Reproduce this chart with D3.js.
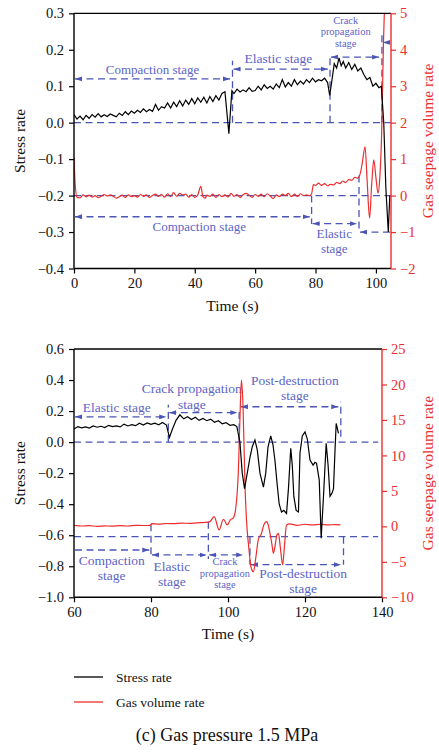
<!DOCTYPE html>
<html><head><meta charset="utf-8">
<script src="https://cdn.jsdelivr.net/npm/d3@7"></script>
<style>
body{margin:0;background:#fff;}
svg{display:block;font-family:"Liberation Serif","DejaVu Serif",serif;}
</style>
</head><body>
<svg id="c" width="439" height="752"></svg>
<script>
// ---------- DATA ----------
// Top panel: stress rate (left axis)
const topTime = [0,1,2,3,4,5,6,7,8,9,10,11,12,13,14,15,16,17,18,19,20,21,22,23,24,25,26,27,28,29,30,31,32,33,34,35,36,37,38,39,40,41,42,43,44,45,46,47,48,49,50,51.3,52.3,53,54,55,56,57,58,59,60,61,62,63,64,65,66,67,68,69,70,71,72,73,74,75,76,77,78,79,80,81,82,83,84,84.7,85.5,86.2,87,87.8,88.5,89.2,90,91,92,93,94,95,96,97,98,99,100,101,101.8,102.6,103.3,104.1,104.6];
const topStress = [0.022,0.010,0.018,0.008,0.020,0.012,0.022,0.015,0.025,0.016,0.022,0.017,0.024,0.020,0.016,0.026,0.020,0.030,0.022,0.032,0.026,0.034,0.028,0.038,0.030,0.036,0.031,0.050,0.034,0.044,0.040,0.054,0.040,0.056,0.044,0.060,0.046,0.062,0.050,0.066,0.052,0.068,0.056,0.070,0.054,0.072,0.058,0.074,0.062,0.080,0.085,-0.030,0.088,0.080,0.092,0.084,0.090,0.085,0.096,0.086,0.088,0.100,0.090,0.104,0.094,0.100,0.092,0.106,0.096,0.118,0.098,0.110,0.100,0.118,0.104,0.114,0.106,0.118,0.110,0.122,0.112,0.118,0.115,0.122,0.110,0.075,0.120,0.162,0.150,0.178,0.156,0.168,0.150,0.165,0.146,0.160,0.142,0.150,0.132,0.118,0.124,0.100,0.108,0.096,0.100,0.000,-0.180,-0.300,-0.200];
// Top panel: gas seepage volume rate (right axis)
const topGasTime = [0,0.4,1,2,3,4,5,6,7,8,9,10,11,12,13,14,15,16,17,18,19,20,21,22,23,24,25,26,27,28,29,30,31,32,33,34,35,36,37,38,39,40,41,42,42.7,43.5,44,45,46,47,48,49,50,51,52,53,54,55,56,57,58,59,60,61,62,63,64,65,66,67,68,69,70,71,72,73,74,75,76,77,78,78.7,79.3,80,81,82,83,84,85,86,87,88,89,90,91,92,93,94,94.8,95.5,96.4,97.1,97.9,98.6,99.3,100,100.7,101.3,101.9,102.5,102.9];
const topGas = [1.05,0.3,-0.05,-0.06,0.02,-0.03,0.01,-0.04,0.0,-0.06,-0.02,0.03,-0.01,0.02,-0.02,-0.07,-0.03,0.01,-0.05,0.02,-0.03,0.0,-0.04,0.03,-0.02,0.02,-0.05,0.0,0.04,-0.02,0.03,-0.04,0.05,-0.03,0.08,-0.02,0.06,0.02,0.04,-0.04,0.03,-0.05,0.02,0.25,-0.03,-0.07,0.01,-0.02,0.04,-0.05,0.03,-0.03,0.02,-0.04,0.06,-0.02,0.03,-0.05,0.02,0.06,0.01,-0.05,0.03,-0.02,0.04,-0.03,0.05,-0.01,-0.08,0.02,-0.03,0.04,0.0,0.06,-0.03,0.04,-0.02,0.05,0.0,0.02,0.0,0.05,0.30,0.28,0.34,0.28,0.33,0.27,0.31,0.29,0.36,0.33,0.40,0.36,0.44,0.42,0.50,0.48,0.60,0.90,1.34,0.40,-0.62,0.30,0.98,0.50,0.07,0.50,1.70,4.20,5.30];

// Bottom panel: stress rate (left axis)
const botTime = [60,61,62,63,64,65,66,67,68,69,70,71,72,73,74,75,76,77,78,79,80,81,82,83,84,84.8,85.5,86.5,87.5,88.5,89.5,90.5,91.5,92.5,93.5,94.5,95.5,96.5,97.5,98.5,99.5,100.5,101.5,102.3,103.1,103.7,104.3,105,105.7,106.3,107,107.6,108.3,109.2,109.8,110.4,111.1,111.7,112.2,112.8,113.3,113.9,114.5,115.2,115.7,116.3,116.7,117.1,117.7,118.3,118.7,119.3,120,120.6,121.3,122.1,122.6,123,123.7,124.2,124.8,125.5,126,126.5,127,127.4,127.8,128.1,128.7];
const botStress = [0.085,0.100,0.092,0.098,0.090,0.104,0.096,0.102,0.094,0.108,0.100,0.104,0.098,0.116,0.104,0.112,0.106,0.122,0.110,0.124,0.114,0.122,0.112,0.126,0.110,0.030,0.080,0.140,0.176,0.150,0.164,0.146,0.160,0.140,0.152,0.138,0.148,0.128,0.138,0.118,0.126,0.108,0.112,0.100,0.000,-0.200,-0.300,-0.200,-0.100,-0.030,0.013,-0.050,-0.200,-0.290,-0.200,-0.030,0.040,-0.020,-0.120,-0.280,-0.400,-0.450,-0.440,-0.460,-0.300,-0.040,-0.150,-0.350,-0.440,-0.450,-0.070,0.040,0.066,0.020,-0.116,-0.148,-0.130,-0.137,-0.245,-0.620,-0.350,-0.008,-0.150,-0.350,-0.330,-0.300,-0.050,0.120,0.056];
// Bottom panel: gas seepage volume rate (right axis)
const botGasTime = [60,62,64,66,68,70,72,74,76,78,79.8,80.2,82,84,86,88,90,92,94,95.3,96.4,97.7,98.8,99.8,100.6,101.4,101.9,102.7,103.2,103.5,103.9,104.4,104.8,105.4,106,106.6,107.2,107.9,108.7,109.3,110,110.5,110.9,111.4,111.8,112.3,112.7,113.1,113.6,114.2,114.7,115.2,116,118,120,122,124,126,128,129.2];
const botGas = [0.15,0.05,0.10,0.00,0.08,0.02,0.10,0.05,0.15,0.12,0.15,0.38,0.32,0.40,0.38,0.45,0.42,0.50,0.55,0.66,1.37,-0.50,1.00,0.20,0.90,1.20,2.10,7.90,17.0,20.6,17.0,6.0,0.9,-3.0,-5.8,-6.4,-4.5,-1.8,-1.0,0.2,0.66,0.1,-0.94,-2.5,-3.8,-2.5,-1.2,-1.0,-3.0,-5.4,-2.5,0.2,0.35,0.15,0.30,0.20,0.30,0.20,0.25,0.20];

// Tick labels
const topXTicks = [0,20,40,60,80,100];
const topLeftTicks = [0.3,0.2,0.1,0.0,-0.1,-0.2,-0.3,-0.4];
const topRightTicks = [5,4,3,2,1,0,-1,-2];
const botXTicks = [60,80,100,120,140];
const botLeftTicks = [0.6,0.4,0.2,0.0,-0.2,-0.4,-0.6,-0.8,-1.0];
const botRightTicks = [25,20,15,10,5,0,-5,-10];

// Stage annotations: [x1, x2, y, axis, arrowStart, arrowEnd]
const topArrows = [[0,52,0.12,'L',1,1],[52.5,84.4,0.147,'L',1,1],[84.8,101.4,0.18,'L',1,1],[102,105,0.22,'L',1,0],
                   [0,78.4,-0.58,'R',1,1],[78.7,94.1,-0.77,'R',1,1],[94.4,105,-1.0,'R',1,0]];
const topVLines = [[52.5,0,0.17,'L'],[84.8,0,0.185,'L'],[102,0,0.245,'L'],[78.7,0,-0.78,'R'],[94.4,0.55,-1.0,'R']];
const topHLines = [[0,105,0,'L'],[0,105,0,'R']];
const topLabels = [[["Compaction stage"],26,0.134,'L',13],[["Elastic stage"],67.7,0.163,'L',13.5],[["Crack","propagation","stage"],90,0.272,'L',10.5],
                   [["Compaction stage"],41.5,-0.98,'R',13],[["Elastic","stage"],86.2,-1.17,'R',13]];

const botArrows = [[60,84.2,0.163,'L',1,1],[84.5,102.7,0.19,'L',1,1],[103.1,128.9,0.228,'L',1,1],
                   [60,79.8,-3.33,'R',0,1],[80,94.7,-4.03,'R',1,1],[94.9,104.2,-4.03,'R',1,1],[105.7,129.6,-5.4,'R',1,1]];
const botVLines = [[84.5,0,0.24,'L'],[102.9,0,0.22,'L'],[129.3,0.034,0.26,'L'],[80,0.3,-4.0,'R'],[94.9,0.66,-4.6,'R'],[105.7,-1.45,-5.4,'R'],[130,-1.45,-5.4,'R']];
const botHLines = [[60,139,0,'L'],[60,139,-1.45,'R']];
const botLabels = [[["Elastic stage"],71.1,0.196,'L',13.5],[["Crack propagation","stage"],90.6,0.314,'L',13.5],[["Post-destruction","stage"],117.4,0.368,'L',13.5],
                   [["Compaction","stage"],69.8,-5.44,'R',13.5],[["Elastic","stage"],85.4,-6.3,'R',13.5],[["Crack","propagation","stage"],99.2,-5.44,'R',10.5],[["Post-destruction","stage"],119.5,-7.3,'R',13.5]];

const legendItems = ["Stress rate","Gas volume rate"];
const caption = "(c) Gas pressure 1.5 MPa";

// ---------- DRAWING ----------
const RED = "#ec2d2d", BLUE = "#4a55b5", BLUE_T = "#5c64c6";
const svg = d3.select("#c");
const defs = svg.append("defs");
defs.append("marker").attr("id","ah").attr("viewBox","0 0 7 6").attr("refX",7).attr("refY",3)
  .attr("markerWidth",7).attr("markerHeight",6).attr("markerUnits","userSpaceOnUse")
  .attr("orient","auto-start-reverse")
  .append("path").attr("d","M0,0.6 L7,3 L0,5.4 Z").attr("fill",BLUE);

function panel(cfg){
  const g = svg.append("g");
  const x = d3.scaleLinear().domain(cfg.xDom).range([74, cfg.xRight]);
  const yL = d3.scaleLinear().domain(cfg.yLDom).range([cfg.yBottom, cfg.yTop]);
  const yR = d3.scaleLinear().domain(cfg.yRDom).range([cfg.yBottom, cfg.yTop]);
  const ys = a => a==='L' ? yL : yR;
  const clipId = "clip"+cfg.id;
  defs.append("clipPath").attr("id",clipId).append("rect")
    .attr("x",74).attr("y",cfg.yTop).attr("width",cfg.xRight-74).attr("height",cfg.yBottom-cfg.yTop);

  // annotations (dashed)
  const ann = g.append("g").attr("stroke",BLUE).attr("stroke-width",1.3).attr("stroke-dasharray","7,4.5").attr("fill","none");
  cfg.hlines.forEach(h=>{
    ann.append("line").attr("x1",x(h[0])).attr("x2",x(h[1])).attr("y1",ys(h[3])(h[2])).attr("y2",ys(h[3])(h[2]));
  });
  cfg.vlines.forEach(v=>{
    ann.append("line").attr("x1",x(v[0])).attr("x2",x(v[0])).attr("y1",ys(v[3])(v[1])).attr("y2",ys(v[3])(v[2]));
  });
  cfg.arrows.forEach(a=>{
    const l = ann.append("line").attr("x1",x(a[0])+1).attr("x2",x(a[1])-1).attr("y1",ys(a[3])(a[2])).attr("y2",ys(a[3])(a[2]));
    if(a[4]) l.attr("marker-start","url(#ah)");
    if(a[5]) l.attr("marker-end","url(#ah)");
  });
  cfg.labels.forEach(t=>{
    const fs = t[4];
    const tx = g.append("text").attr("fill",BLUE_T).attr("font-size",fs).attr("text-anchor","middle");
    t[0].forEach((s,i)=>{
      tx.append("tspan").attr("x",x(t[1])).attr("y",ys(t[3])(t[2]) + i*fs*1.12).text(s);
    });
  });

  // data lines
  const lines = g.append("g").attr("clip-path",`url(#${clipId})`).attr("fill","none");
  lines.append("path").datum(d3.zip(cfg.gasT,cfg.gas))
    .attr("stroke",RED).attr("stroke-width",1.2)
    .attr("d", d3.line().x(d=>x(d[0])).y(d=>yR(d[1])).curve(d3.curveMonotoneX));
  lines.append("path").datum(d3.zip(cfg.stT,cfg.st))
    .attr("stroke","#000").attr("stroke-width",1.2)
    .attr("d", d3.line().x(d=>x(d[0])).y(d=>yL(d[1])));

  // frame top
  g.append("line").attr("x1",74).attr("x2",cfg.xRight).attr("y1",cfg.yTop).attr("y2",cfg.yTop).attr("stroke","#000").attr("stroke-width",1.3);

  // axes
  const ax = g.append("g").attr("transform",`translate(0,${cfg.yBottom})`)
    .call(d3.axisBottom(x).tickValues(cfg.xTicks).tickSize(5).tickPadding(4).tickFormat(d3.format("d")));
  const al = g.append("g").attr("transform","translate(74,0)")
    .call(d3.axisLeft(yL).tickValues(cfg.lTicks).tickSize(5).tickPadding(5).tickFormat(d3.format(".1f")));
  const ar = g.append("g").attr("transform",`translate(${cfg.xRight},0)`)
    .call(d3.axisRight(yR).tickValues(cfg.rTicks).tickSize(5).tickPadding(4).tickFormat(d3.format("d")));
  [ax,al,ar].forEach(a=>{
    a.attr("font-family",null).attr("font-size",14.5);
    a.select(".domain").attr("stroke-width",1.4);
    a.selectAll(".tick line").attr("stroke-width",1.2);
  });
  [ax,al].forEach(a=>{ a.selectAll("text").attr("fill","#111"); a.selectAll(".tick line, .domain").attr("stroke","#000"); });
  ar.selectAll("text").attr("fill",RED);
  ar.selectAll(".tick line, .domain").attr("stroke",RED);
  ax.select(".domain").attr("d",`M74,0H${cfg.xRight}`);
  al.select(".domain").attr("d",`M0,${cfg.yBottom}V${cfg.yTop}`);
  ar.select(".domain").attr("d",`M0,${cfg.yBottom}V${cfg.yTop}`);

  // titles
  const midY = (cfg.yTop+cfg.yBottom)/2;
  g.append("text").attr("x",(74+cfg.xRight)/2).attr("y",cfg.yBottom+42).attr("text-anchor","middle")
    .attr("font-size",15.5).attr("fill","#111").text("Time (s)");
  g.append("text").attr("transform",`translate(25,${midY}) rotate(-90)`).attr("text-anchor","middle")
    .attr("font-size",15.5).attr("fill","#111").text("Stress rate");
  g.append("text").attr("transform",`translate(433,${midY}) rotate(-90)`).attr("text-anchor","middle")
    .attr("font-size",15.5).attr("fill",RED).text("Gas seepage volume rate");
}

panel({id:"t", xDom:[0,105], xRight:391, yTop:13.3, yBottom:268.5, yLDom:[-0.4,0.3], yRDom:[-2,5],
  stT:topTime, st:topStress, gasT:topGasTime, gas:topGas,
  xTicks:topXTicks, lTicks:topLeftTicks, rTicks:topRightTicks,
  arrows:topArrows, vlines:topVLines, hlines:topHLines, labels:topLabels});
panel({id:"b", xDom:[60,140], xRight:382, yTop:349, yBottom:597.3, yLDom:[-1,0.6], yRDom:[-10,25],
  stT:botTime, st:botStress, gasT:botGasTime, gas:botGas,
  xTicks:botXTicks, lTicks:botLeftTicks, rTicks:botRightTicks,
  arrows:botArrows, vlines:botVLines, hlines:botHLines, labels:botLabels});

// legend
const lg = svg.append("g");
[["#000",677],[RED,702]].forEach((c,i)=>{
  lg.append("line").attr("x1",74).attr("x2",103).attr("y1",c[1]).attr("y2",c[1]).attr("stroke",c[0]).attr("stroke-width",1.3);
  lg.append("text").attr("x",116).attr("y",c[1]+4.5).attr("font-size",13.5).attr("fill","#111").text(legendItems[i]);
});
svg.append("text").attr("x",227).attr("y",741).attr("text-anchor","middle").attr("font-size",18).attr("fill","#111").text(caption);
</script>
</body></html>
